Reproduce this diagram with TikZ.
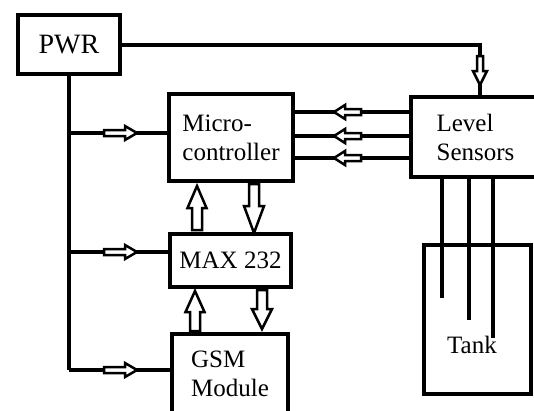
\documentclass[tikz,border=0pt]{standalone}
\usepackage{fontspec}
\setmainfont{Liberation Serif}
\newcommand\hollowarr[6]{% #1 start, #2 angle, #3 length, #4 head length, #5 shaft half, #6 head half
  \draw[harr, shift={(#1)}, rotate=#2] (0,-#5) -- ({#3-#4},-#5) -- ({#3-#4},-#6) -- (#3,0) -- ({#3-#4},#6) -- ({#3-#4},#5) -- (0,#5) -- cycle;}
\begin{document}
\begin{tikzpicture}[x=1pt,y=-1pt,
  box/.style={draw, line width=4pt, rectangle, inner sep=0pt, font=\fontsize{25}{29}\selectfont, align=left},
  lbl/.style={font=\fontsize{25}{29}\selectfont, inner sep=0pt},
  wire/.style={line width=4pt},
  harr/.style={draw, line width=2.5pt, fill=white, line join=miter}]
\useasboundingbox[fill=white] (0,0) rectangle (534,410);
% boxes
\node[box, minimum width=102pt, minimum height=59pt, font=\fontsize{28}{32}\selectfont] (pwr) at (69,44.5) {PWR};
\node[box, minimum width=124pt, minimum height=87pt] (mc) at (231,137.5) {Micro-\\controller};
\node[box, minimum width=129pt, minimum height=80pt] (ls) at (475.5,137) {Level\\Sensors};
\node[box, minimum width=121pt, minimum height=53pt] (max) at (230.5,260.5) {MAX 232};
\node[box, minimum width=116pt, minimum height=80pt] (gsm) at (230,374) {GSM\\Module};
\node[box, minimum width=107pt, minimum height=149pt] (tank) at (477.5,319.5) {};
\node[lbl] (tanklbl) at (472,345) {Tank};
% coordinates
\coordinate (pc) at (480,44.5);
\coordinate (bm) at (69,133);
\coordinate (bx) at (69,252);
\coordinate (bg) at (69,370);
\coordinate (l1) at (350,112);
\coordinate (l2) at (350,136);
\coordinate (l3) at (350,158);
\coordinate (p1) at (442,298);
\coordinate (p2) at (469,320);
\coordinate (p3) at (493,338);
% wires
\draw[wire] (pwr.east) -- (pc) -- (pc |- ls.north);
\draw[wire] (pwr.south) -- (bg);
\draw[wire] (bm) -- (bm -| mc.west);
\draw[wire] (bx) -- (bx -| max.west);
\draw[wire] (bg) -- (bg -| gsm.west);
\draw[wire] (l1 -| ls.west) -- (l1 -| mc.east);
\draw[wire] (l2 -| ls.west) -- (l2 -| mc.east);
\draw[wire] (l3 -| ls.west) -- (l3 -| mc.east);
\draw[wire] (p1 |- ls.south) -- (p1);
\draw[wire] (p2 |- ls.south) -- (p2);
\draw[wire] (p3 |- ls.south) -- (p3);
% arrows
\hollowarr{104,133}{0}{33}{12}{3}{7}
\hollowarr{104,252}{0}{33}{12}{3}{7}
\hollowarr{104,370}{0}{33}{12}{3}{7}
\hollowarr{361,112}{180}{27}{11}{3}{7}
\hollowarr{361,136}{180}{27}{11}{3}{7}
\hollowarr{361,158}{180}{27}{11}{3}{7}
\hollowarr{480,56}{-90}{29}{14}{3}{7}
\hollowarr{197,230}{90}{44}{22}{5}{9.5}
\hollowarr{254,184}{-90}{49}{27}{5}{10}
\hollowarr{195,331}{90}{40}{21}{5}{9.5}
\hollowarr{262,290}{-90}{39}{20}{5}{10}
\end{tikzpicture}
\end{document}
